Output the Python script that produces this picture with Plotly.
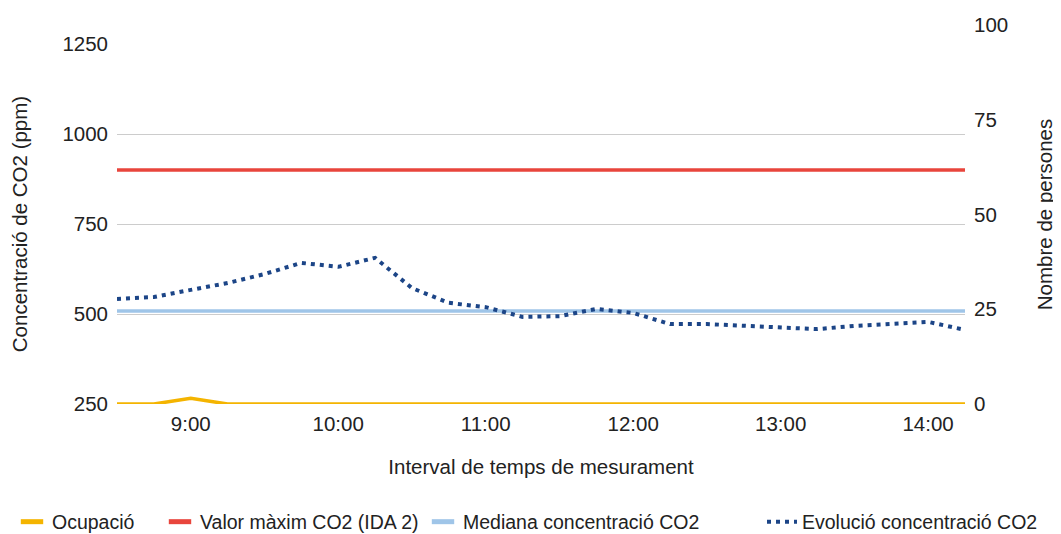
import plotly.graph_objects as go

times = ["08:30", "08:45", "09:00", "09:15", "09:30", "09:45", "10:00", "10:15",
         "10:30", "10:45", "11:00", "11:15", "11:30", "11:45", "12:00", "12:15",
         "12:30", "12:45", "13:00", "13:15", "13:30", "13:45", "14:00", "14:15"]
ocupacio = [0, 0, 1.5, 0, 0, 0, 0, 0, 0, 0, 0, 0, 0, 0, 0, 0, 0, 0, 0, 0, 0, 0, 0, 0]
valor_maxim = [900] * 24
mediana = [508] * 24
evolucio = [542, 547, 567, 586, 611, 642, 631, 656, 572, 531, 519, 492,
            494, 514, 503, 472, 472, 467, 464, 458, 467, 472, 478, 456]

tick_hours = ["09:00", "10:00", "11:00", "12:00", "13:00", "14:00"]
tick_labels = ["9:00", "10:00", "11:00", "12:00", "13:00", "14:00"]
left_ticks = [250, 500, 750, 1000, 1250]
right_ticks = [0, 25, 50, 75, 100]

day = "2024-01-01 "
x = [day + t for t in times]

FONT = "Liberation Sans, Arial, sans-serif"
FS = 20.5
LFS = 19.5
TXT = "#222222"
W, H = 1053, 526  # page body adds an 8px offset

C_OCU, C_MAX, C_MED, C_EVO = "#F4B400", "#E8453C", "#9FC5E8", "#1C4587"

fig = go.Figure()
# data traces
fig.add_trace(go.Scatter(x=x, y=ocupacio, name="Ocupació", mode="lines",
                         line=dict(color=C_OCU, width=3.5), yaxis="y2",
                         showlegend=False))
fig.add_trace(go.Scatter(x=x, y=valor_maxim, name="Valor màxim CO2 (IDA 2)", mode="lines",
                         line=dict(color=C_MAX, width=3.5), showlegend=False))
fig.add_trace(go.Scatter(x=x, y=mediana, name="Mediana concentració CO2", mode="lines",
                         line=dict(color=C_MED, width=3.5), showlegend=False))
fig.add_trace(go.Scatter(x=x, y=evolucio, name="Evolució concentració CO2", mode="lines",
                         line=dict(color=C_EVO, width=4, dash="4px,5px"),
                         legend="legend4"))


# short swatch legend entries
def swatch(name, color, legend):
    return go.Scatter(x=[None], y=[None], name=name, mode="markers",
                      marker=dict(symbol="line-ew", size=16,
                                  line=dict(color=color, width=5)),
                      legend=legend, hoverinfo="skip")


fig.add_trace(swatch("Ocupació", C_OCU, "legend"))
fig.add_trace(swatch("Valor màxim CO2 (IDA 2)", C_MAX, "legend2"))
fig.add_trace(swatch("Mediana concentració CO2", C_MED, "legend3"))


def leg(px):
    return dict(orientation="h", xref="container", yref="container",
                x=px / W, xanchor="left", y=1 - 514 / H, yanchor="middle",
                font=dict(family=FONT, size=LFS, color=TXT), itemwidth=30,
                bgcolor="rgba(0,0,0,0)", borderwidth=0)


fig.update_layout(
    width=W, height=H,
    margin=dict(l=109, r=96, t=17, b=130, autoexpand=False),
    paper_bgcolor="white", plot_bgcolor="rgba(0,0,0,0)",
    font=dict(family=FONT, size=FS, color=TXT),
    showlegend=True,
    legend=leg(4),
    legend2=leg(152),
    legend3=leg(415),
    legend4=leg(754),
    xaxis=dict(
        range=[day + "08:30", day + "14:15"],
        tickvals=[day + t for t in tick_hours], ticktext=tick_labels,
        showgrid=False, zeroline=False, showline=False, ticks="",
        ticklabelstandoff=5, automargin=False,
        tickfont=dict(size=FS, color=TXT),
        title=dict(text="Interval de temps de mesurament", standoff=26,
                   font=dict(size=FS, color=TXT)),
        anchor="y",
    ),
    yaxis=dict(
        domain=[0, 360 / 379], range=[250, 1250],
        tickvals=left_ticks, showgrid=True, gridcolor="#CCCCCC", gridwidth=1,
        zeroline=False, showline=False, ticks="", ticklabelstandoff=8,
        automargin=False,
        tickfont=dict(size=FS, color=TXT),
        title=dict(text="Concentració de CO2 (ppm)", standoff=32,
                   font=dict(size=FS, color=TXT)),
    ),
    yaxis2=dict(
        domain=[0, 1], range=[0, 100], anchor="x", side="right",
        tickvals=right_ticks, showgrid=False, zeroline=False, showline=False,
        ticks="", ticklabelstandoff=8, automargin=False,
        tickfont=dict(size=FS, color=TXT),
        title=dict(text="Nombre de persones", standoff=30,
                   font=dict(size=FS, color=TXT)),
    ),
)

fig.write_html("out.html")
